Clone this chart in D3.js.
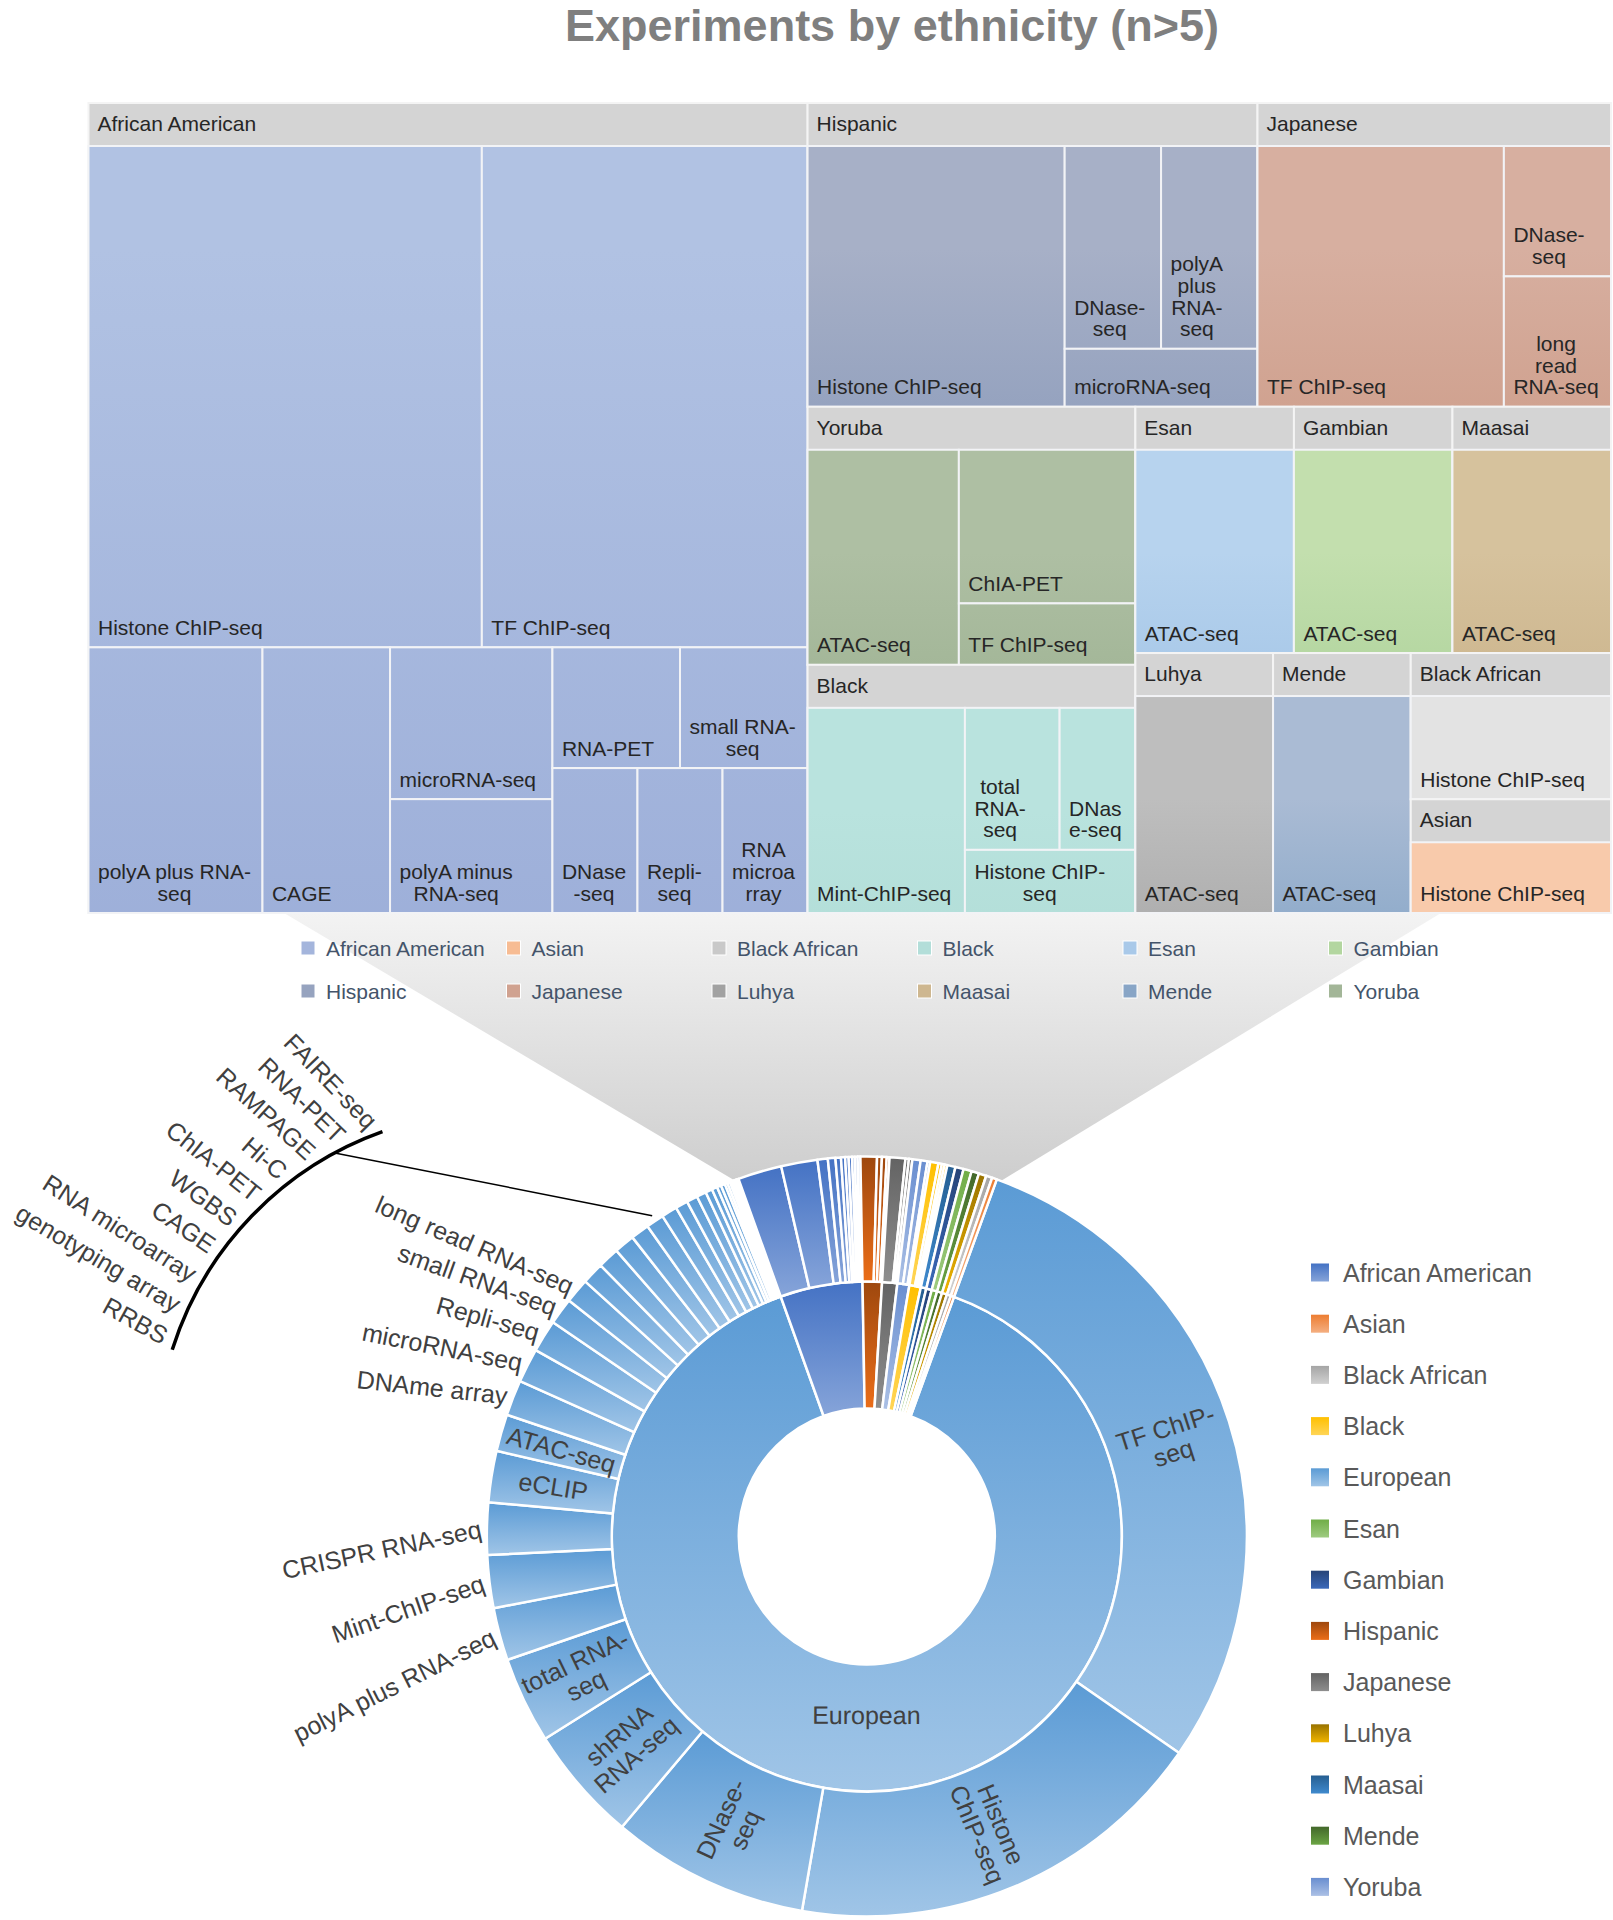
<!DOCTYPE html>
<html><head><meta charset="utf-8">
<script src="https://cdn.jsdelivr.net/npm/d3@7"></script>
<style>
html,body{margin:0;padding:0;background:#fff;}
svg{display:block;font-family:'Liberation Sans',Arial,Helvetica,sans-serif;}
</style></head><body>
<svg id="chart" width="1613" height="1920"></svg>
<script>
// ---------------- DATA ----------------
const titleText = "Experiments by ethnicity (n>5)";

const africanAmericanAssays = ["Histone ChIP-seq","TF ChIP-seq","polyA plus RNA-seq","CAGE","microRNA-seq","polyA minus RNA-seq","RNA-PET","small RNA-seq","DNase-seq","Repli-seq","RNA microarray"];
const africanAmericanCounts = [64,53,15,11,8,6,5,5,4,4,4];
const hispanicAssays = ["Histone ChIP-seq","DNase-seq","polyA plus RNA-seq","microRNA-seq"];
const hispanicCounts = [24,7,7,4];
const japaneseAssays = ["TF ChIP-seq","DNase-seq","long read RNA-seq"];
const japaneseCounts = [23,5,5];
const yorubaAssays = ["ATAC-seq","ChIA-PET","TF ChIP-seq"];
const yorubaCounts = [12,10,4];
const blackAssays = ["Mint-ChIP-seq","total RNA-seq","DNase-seq","Histone ChIP-seq"];
const blackCounts = [12,5,4,4];
const esanAssays = ["ATAC-seq"];          const esanCounts = [12];
const gambianAssays = ["ATAC-seq"];       const gambianCounts = [12];
const maasaiAssays = ["ATAC-seq"];        const maasaiCounts = [12];
const luhyaAssays = ["ATAC-seq"];         const luhyaCounts = [11];
const mendeAssays = ["ATAC-seq"];         const mendeCounts = [11];
const blackAfricanAssays = ["Histone ChIP-seq"]; const blackAfricanCounts = [9];
const asianAssays = ["Histone ChIP-seq"]; const asianCounts = [7];
const europeanAssays = ["TF ChIP-seq","Histone ChIP-seq","DNase-seq","shRNA RNA-seq","total RNA-seq","polyA plus RNA-seq","Mint-ChIP-seq","CRISPR RNA-seq","eCLIP","ATAC-seq","DNAme array","microRNA-seq","Repli-seq","small RNA-seq","long read RNA-seq","RRBS","genotyping array","RNA microarray","CAGE","WGBS","ChIA-PET","Hi-C","RAMPAGE","RNA-PET","FAIRE-seq","MNase-seq","PRO-cap","GRO-cap","PRO-seq","RIP-seq","Bru-seq","BruChase-seq","GRO-seq","5C","DNA-PET"];
const europeanCounts = [999,621,289,169,126,77,77,76,75,54,52,50,47,39,36,32,31,30,27,26,23,18,16,14,10,8,6,6,4,4,3,3,3,2,2];

const groupData = {
  "African American": [africanAmericanAssays, africanAmericanCounts],
  "Hispanic": [hispanicAssays, hispanicCounts],
  "Japanese": [japaneseAssays, japaneseCounts],
  "Yoruba": [yorubaAssays, yorubaCounts],
  "Black": [blackAssays, blackCounts],
  "Esan": [esanAssays, esanCounts],
  "Gambian": [gambianAssays, gambianCounts],
  "Maasai": [maasaiAssays, maasaiCounts],
  "Luhya": [luhyaAssays, luhyaCounts],
  "Mende": [mendeAssays, mendeCounts],
  "Black African": [blackAfricanAssays, blackAfricanCounts],
  "Asian": [asianAssays, asianCounts],
  "European": [europeanAssays, europeanCounts]
};

const treemapOrder = ["African American","Hispanic","Japanese","Yoruba","Black","Esan","Gambian","Maasai","Luhya","Mende","Black African","Asian"];
const treemapLegendOrder = ["African American","Asian","Black African","Black","Esan","Gambian","Hispanic","Japanese","Luhya","Maasai","Mende","Yoruba"];
const sunburstOrder = ["European","African American","Hispanic","Japanese","Yoruba","Black","Maasai","Gambian","Esan","Mende","Luhya","Black African","Asian"];
const sunburstLegendOrder = ["African American","Asian","Black African","Black","European","Esan","Gambian","Hispanic","Japanese","Luhya","Maasai","Mende","Yoruba"];

// displayed label text (line breaks as in the figure)
const treemapWrapped = {
  "African American/polyA plus RNA-seq": ["polyA plus RNA-","seq"],
  "African American/polyA minus RNA-seq": ["polyA minus","RNA-seq"],
  "African American/small RNA-seq": ["small RNA-","seq"],
  "African American/DNase-seq": ["DNase","-seq"],
  "African American/Repli-seq": ["Repli-","seq"],
  "African American/RNA microarray": ["RNA","microa","rray"],
  "Hispanic/DNase-seq": ["DNase-","seq"],
  "Hispanic/polyA plus RNA-seq": ["polyA","plus","RNA-","seq"],
  "Japanese/DNase-seq": ["DNase-","seq"],
  "Japanese/long read RNA-seq": ["long","read","RNA-seq"],
  "Black/total RNA-seq": ["total","RNA-","seq"],
  "Black/DNase-seq": ["DNas","e-seq"],
  "Black/Histone ChIP-seq": ["Histone ChIP-","seq"]
};
const sunburstInside = {
  "TF ChIP-seq": ["TF ChIP-","seq"], "Histone ChIP-seq": ["Histone","ChIP-seq"],
  "DNase-seq": ["DNase-","seq"], "shRNA RNA-seq": ["shRNA","RNA-seq"],
  "total RNA-seq": ["total RNA-","seq"], "eCLIP": ["eCLIP"], "ATAC-seq": ["ATAC-seq"]
};
const sunburstOutside = ["polyA plus RNA-seq","Mint-ChIP-seq","CRISPR RNA-seq","DNAme array","microRNA-seq","Repli-seq","small RNA-seq","long read RNA-seq"];
const calloutLabels = ["FAIRE-seq","RNA-PET","RAMPAGE","Hi-C","ChIA-PET","WGBS","CAGE","RNA microarray","genotyping array","RRBS"];

// ---------------- STYLE / LAYOUT ----------------
const treemapColors = {
  "African American": ["#b1c2e3","#9badd8"], "Hispanic": ["#a7b0c7","#8a9aba"],
  "Japanese": ["#d7afa0","#cc9a86"], "Yoruba": ["#aebfa3","#9bb090"],
  "Black": ["#b9e3de","#afdbd5"], "Esan": ["#b7d3ee","#9fc2e5"],
  "Gambian": ["#c3dfae","#a9d097"], "Maasai": ["#d6c29d","#c8b087"],
  "Luhya": ["#bebebe","#a3a3a3"], "Mende": ["#aabbd4","#7ea1c4"],
  "Black African": ["#e3e3e3","#d8d8d8"], "Asian": ["#f8caab","#f6b283"]
};
const treemapLegendTint = {"Black African": "#c9c9c9", "Luhya": "#a2a2a2", "Mende": "#88a5c6"};
const sunburstColors = {
  "African American":"#4472C4","Asian":"#ED7D31","Black African":"#A5A5A5","Black":"#FFC000",
  "European":"#5B9BD5","Esan":"#70AD47","Gambian":"#264478","Hispanic":"#9E480E",
  "Japanese":"#636363","Luhya":"#997300","Maasai":"#255E91","Mende":"#43682B","Yoruba":"#698ED0"
};
const treemapStrips = {
  "root": [["African American"],["Hispanic","Japanese"],["Yoruba","Black"],["Esan","Gambian","Maasai"],["Luhya"],["Mende"],["Black African"],["Asian"]],
  "African American": [["Histone ChIP-seq","TF ChIP-seq"],["polyA plus RNA-seq"],["CAGE"],["microRNA-seq","polyA minus RNA-seq"],["RNA-PET","small RNA-seq"],["DNase-seq"],["Repli-seq"],["RNA microarray"]],
  "Hispanic": [["Histone ChIP-seq"],["DNase-seq","polyA plus RNA-seq"],["microRNA-seq"]],
  "Black": [["Mint-ChIP-seq"],["total RNA-seq","DNase-seq"],["Histone ChIP-seq"]]
};
const TM = {x: 88.5, y: 103, w: 1522.5, h: 810, header: 43};
const SB = {cx: 866.8, cy: 1536.5, startDeg: 20};

const svg = d3.select("#chart");
const defs = svg.append("defs");

function vGrad(id, top, bottom, user) {
  const g = defs.append("linearGradient").attr("id", id).attr("x1",0).attr("x2",0).attr("y1",user?user[0]:0).attr("y2",user?user[1]:1);
  if (user) g.attr("gradientUnits","userSpaceOnUse");
  g.append("stop").attr("offset",0).attr("stop-color",top);
  g.append("stop").attr("offset",1).attr("stop-color",bottom);
  return `url(#${id})`;
}
function lighten(c, dl) { const h = d3.hsl(c); h.l = Math.min(0.93, h.l + dl); return h.formatHex(); }
const slug = s => s.replace(/\s+/g,"_");

// ---------------- TITLE ----------------
svg.append("text").attr("x", 892).attr("y", 41).attr("text-anchor","middle")
  .attr("font-size", 45).attr("font-weight","bold").attr("fill","#7f7f7f").text(titleText);

// ---------------- SUNBURST LAYOUT (needed for shade) ----------------
const sbRoot = d3.hierarchy({name:"all", children: sunburstOrder.map(g => ({
    name: g, children: groupData[g][0].map((a,i) => ({name: a, value: groupData[g][1][i]}))
  }))}).sum(d => d.value || 0);
d3.partition().size([2*Math.PI, 3])(sbRoot);
const off = SB.startDeg * Math.PI / 180;
const rScale = d3.scaleLinear().domain([1,2,3]).range([128,255,380]);
const polar = (a, r) => [SB.cx + r*Math.sin(a), SB.cy - r*Math.cos(a)];

// ---------------- SHADE (zoom connector) ----------------
const euro = sbRoot.children.find(d => d.data.name === "European");
const pL = polar(euro.x1 + off, 380), pR = polar(2*Math.PI + off, 380);
const shadeFill = vGrad("shade", "#f3f3f3", "#cdcdcd", [TM.y + TM.h, pL[1] + 8]);
svg.append("path").attr("fill", shadeFill)
  .attr("d", `M284,${TM.y+TM.h}L1441,${TM.y+TM.h}L${pR[0]},${pR[1]+4}L${pL[0]},${pL[1]+4}Z`);

// ---------------- TREEMAP ----------------
function stripTile(parent, x0, y0, x1, y1) {
  const kids = parent.children;
  const spec = treemapStrips[parent.data.name];
  const strips = spec ? spec.map(s => s.map(n => kids.find(k => k.data.name === n))) : kids.map(k => [k]);
  let remaining = parent.value;
  strips.forEach(nodes => {
    const v = d3.sum(nodes, n => n.value);
    const row = {children: nodes, value: v};
    const dx = x1 - x0, dy = y1 - y0;
    if (dx < dy) { const yy = remaining ? y0 + dy*v/remaining : y1; d3.treemapDice(row, x0, y0, x1, yy); y0 = yy; }
    else { const xx = remaining ? x0 + dx*v/remaining : x1; d3.treemapSlice(row, x0, y0, xx, y1); x0 = xx; }
    remaining -= v;
  });
}
const tmRoot = d3.hierarchy({name:"root", children: treemapOrder.map(g => ({
    name: g, children: groupData[g][0].map((a,i) => ({name: a, value: groupData[g][1][i]}))
  }))}).sum(d => d.value || 0);
d3.treemap().tile(stripTile).size([TM.w, TM.h]).paddingTop(d => d.depth === 1 ? TM.header : 0)(tmRoot);

const tm = svg.append("g").attr("transform", `translate(${TM.x},${TM.y})`);
const groups = tm.selectAll("g.grp").data(tmRoot.children).join("g").attr("class","grp");
groups.append("rect").attr("x", d=>d.x0).attr("y", d=>d.y0).attr("width", d=>d.x1-d.x0).attr("height", d=>d.y1-d.y0)
  .attr("fill","#d4d4d4").attr("stroke","#f4f4f4").attr("stroke-width",2);
groups.each(function(g) {
  const c = treemapColors[g.data.name];
  const fill = vGrad("tm_"+slug(g.data.name), c[0], c[1], [TM.y + g.y0 + TM.header, TM.y + g.y1]);
  const sel = d3.select(this);
  sel.selectAll("rect.leaf").data(g.children).join("rect").attr("class","leaf")
    .attr("x", d=>d.x0).attr("y", d=>d.y0).attr("width", d=>d.x1-d.x0).attr("height", d=>d.y1-d.y0)
    .attr("fill", fill).attr("stroke","#f2f3f6").attr("stroke-width",2);
  sel.append("text").attr("x", g.x0 + 9).attr("y", g.y0 + 28).attr("font-size",21).attr("fill","#262626").text(g.data.name);
  g.children.forEach(d => {
    const lines = treemapWrapped[g.data.name + "/" + d.data.name] || [d.data.name];
    const ts = lines.map((l,i) => sel.append("text").attr("font-size",21).attr("fill","#262626")
       .attr("text-anchor","middle").attr("y", d.y1 - 12.5 - (lines.length-1-i)*21.7).text(l));
    const bw = d3.max(ts, t => t.node().getComputedTextLength());
    ts.forEach(t => t.attr("x", d.x0 + 9.5 + bw/2));
  });
});

// treemap legend
const tl = svg.append("g");
treemapLegendOrder.forEach((name, i) => {
  const col = i % 6, row = Math.floor(i / 6);
  const x = 301 + col*205.5, y = 948 + row*43;
  const c = treemapColors[name];
  tl.append("rect").attr("x", x).attr("y", y-7).attr("width",14).attr("height",14)
    .attr("fill", treemapLegendTint[name] || d3.interpolateRgb(c[0], c[1])(0.6)).attr("stroke","#ffffff").attr("stroke-width",1);
  tl.append("text").attr("x", x+25).attr("y", y).attr("dominant-baseline","central")
    .attr("font-size",21).attr("fill","#44546a").text(name);
});

// ---------------- SUNBURST ----------------
const sbFill = {};
Object.keys(sunburstColors).forEach(k => {
  const base = sunburstColors[k];
  sbFill[k] = vGrad("sb_"+slug(k), base, lighten(base, 0.17));
});
const arc = d3.arc().startAngle(d => d.x0 + off).endAngle(d => d.x1 + off)
  .innerRadius(d => rScale(d.y0)).outerRadius(d => rScale(d.y1));
const sb = svg.append("g").attr("transform", `translate(${SB.cx},${SB.cy})`);
sb.selectAll("path").data(sbRoot.descendants().filter(d => d.depth > 0)).join("path")
  .attr("d", arc)
  .attr("fill", d => sbFill[d.depth === 1 ? d.data.name : d.parent.data.name])
  .attr("stroke","#ffffff").attr("stroke-width",2.5).attr("stroke-linejoin","round");

const labelG = svg.append("g").attr("font-size",25).attr("fill","#404040");
function norm(r) { while (r > 180) r -= 360; while (r <= -180) r += 360; return r; }
// inner ring label
[euro].forEach(d => {
  const m = (d.x0 + d.x1)/2 + off, deg = m*180/Math.PI;
  const p = polar(m, (rScale(d.y0)+rScale(d.y1))/2 - 13);
  let rot = norm(deg - 180); if (rot > 90) rot -= 180; if (rot < -90) rot += 180;
  labelG.append("text").attr("transform", `translate(${p[0]},${p[1]}) rotate(${rot})`)
    .attr("text-anchor","middle").attr("dominant-baseline","central").text(d.data.name);
});
// outer ring labels
euro.children.forEach(d => {
  const m = (d.x0 + d.x1)/2 + off;
  const deg = ((m*180/Math.PI) % 360 + 360) % 360;
  if (sunburstInside[d.data.name]) {
    const lines = sunburstInside[d.data.name];
    const p = polar(m, (rScale(d.y0)+rScale(d.y1))/2);
    let rot = norm(deg - 90); if (rot > 90) rot -= 180; if (rot < -90) rot += 180;
    const t = labelG.append("text").attr("transform", `translate(${p[0]},${p[1]}) rotate(${rot})`)
      .attr("text-anchor","middle");
    lines.forEach((l,i) => t.append("tspan").attr("x",0).attr("y", (i - (lines.length-1)/2)*26 + 9).text(l));
  } else if (sunburstOutside.includes(d.data.name)) {
    const p = polar(m, 386);
    const rot = 0.9*(deg - 270) - 13;
    labelG.append("text").attr("transform", `translate(${p[0]},${p[1]}) rotate(${rot})`)
      .attr("text-anchor","end").attr("dominant-baseline","central").text(d.data.name);
  }
});

// callout for the thinnest European assays
const callout = {cx: 496.5, cy: 1452, r: 340, a0: -109.6, a1: -162.5, leaderAt: -118.4,
                 labelR: 350, labelA0: -110.7, labelStep: -5.57, rot0: 46, rotStep: -1.92};
const rad = a => a*Math.PI/180;
const cp = d3.path();
cp.arc(callout.cx, callout.cy, callout.r, rad(callout.a0), rad(callout.a1), true);
svg.append("path").attr("d", cp.toString()).attr("fill","none").attr("stroke","#000").attr("stroke-width",3.5);
const firstCall = euro.children.find(d => d.data.name === calloutLabels[calloutLabels.length-1]);
const leaderAngle = (firstCall.x0 + euro.x1)/2 + off;
const le = polar(leaderAngle, 386);
svg.append("line")
  .attr("x1", callout.cx + callout.r*Math.cos(rad(callout.leaderAt)))
  .attr("y1", callout.cy + callout.r*Math.sin(rad(callout.leaderAt)))
  .attr("x2", le[0]).attr("y2", le[1]).attr("stroke","#000").attr("stroke-width",1.5);
calloutLabels.forEach((name, i) => {
  const a = rad(callout.labelA0 + callout.labelStep*i);
  const x = callout.cx + callout.labelR*Math.cos(a), y = callout.cy + callout.labelR*Math.sin(a);
  const rot = callout.rot0 + callout.rotStep*i;
  labelG.append("text").attr("transform", `translate(${x},${y}) rotate(${rot})`)
    .attr("text-anchor","end").attr("dominant-baseline","central").text(name);
});

// sunburst legend
const sl = svg.append("g");
sunburstLegendOrder.forEach((name, i) => {
  const y = 1272.5 + i*51.2;
  sl.append("rect").attr("x",1311).attr("y", y-9).attr("width",18).attr("height",18).attr("fill", sbFill[name]);
  sl.append("text").attr("x",1343).attr("y",y).attr("dominant-baseline","central")
    .attr("font-size",25).attr("fill","#595959").text(name);
});
</script></body></html>
